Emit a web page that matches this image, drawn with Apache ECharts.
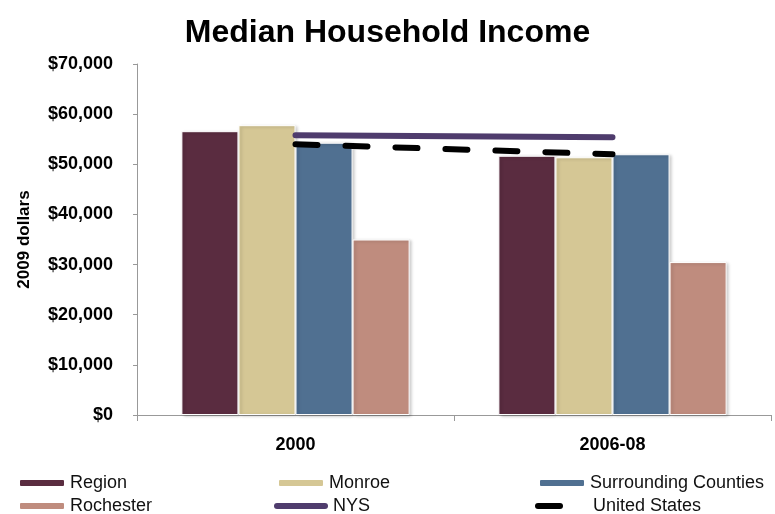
<!DOCTYPE html>
<html>
<head>
<meta charset="utf-8">
<script src="https://cdn.jsdelivr.net/npm/echarts@6/dist/echarts.min.js"></script>
<style>
html,body{margin:0;padding:0;background:#fff;}
#chart{width:775px;height:514px;}
</style>
</head>
<body>
<div id="chart"></div>
<script>
var categories = ['2000', '2006-08'];
var region = [56600, 51700];
var monroe = [57800, 51400];
var surrounding = [54300, 52000];
var rochester = [35000, 30500];
var nys = [55800, 55400];
var unitedStates = [54000, 52000];

var FONT = '"Liberation Sans", Arial, sans-serif';
var barShadow = {borderColor: '#ffffff', borderWidth: 1, shadowColor: 'rgba(0,0,0,0.22)', shadowBlur: 3, shadowOffsetX: 2, shadowOffsetY: 1};

function barSeries(name, data, color) {
  return {
    name: name, type: 'bar', data: data,
    barGap: '0%', barCategoryGap: '28%',
    itemStyle: Object.assign({color: color}, barShadow)
  };
}

var ROUND_LINE = 'path://M3,0 H51 A3,3 0 0 1 51,6 H3 A3,3 0 0 1 3,0 Z';
var ROUND_DASH = 'path://M3,0 H25 A3,3 0 0 1 25,6 H3 A3,3 0 0 1 3,0 Z';

function legendItem(name, left, top, opts) {
  var base = {
    orient: 'horizontal', left: left, top: top, padding: 0,
    itemWidth: 46, itemHeight: 8, data: [name],
    textStyle: {fontFamily: FONT, fontSize: 18, color: '#111', lineHeight: 18},
    selectedMode: false
  };
  return Object.assign(base, opts || {});
}

var chart = echarts.init(document.getElementById('chart'), null, {renderer: 'canvas'});
chart.setOption({
  animation: false,
  backgroundColor: '#ffffff',
  title: {
    text: 'Median Household Income', left: 'center', top: 12,
    textStyle: {fontFamily: FONT, fontSize: 32, fontWeight: 'bold', color: '#000'}
  },
  legend: [
    legendItem('Region', 18, 474),
    legendItem('Rochester', 18, 497),
    legendItem('Monroe', 277, 474),
    legendItem('NYS', 274, 497, {
      itemWidth: 54, itemHeight: 6,
      data: [{name: 'NYS', icon: ROUND_LINE, itemStyle: {color: '#4F3C6D', borderWidth: 0}}]
    }),
    legendItem('Surrounding Counties', 538, 474),
    legendItem('United States', 535, 497, {
      itemWidth: 28, itemHeight: 6,
      data: [{name: 'United States', icon: ROUND_DASH, itemStyle: {color: '#000', borderWidth: 0},
              textStyle: {padding: [0, 0, 0, 25]}}]
    })
  ],
  grid: {left: 137, right: 4, top: 64, bottom: 99, containLabel: false},
  xAxis: {
    type: 'category', data: categories,
    axisLine: {lineStyle: {color: '#999', width: 1}},
    axisTick: {show: true, length: 6, lineStyle: {color: '#999'}},
    axisLabel: {margin: 21, fontFamily: FONT, fontSize: 18, fontWeight: 'bold', color: '#000'}
  },
  yAxis: {
    type: 'value', min: 0, max: 70000, interval: 10000,
    name: '2009 dollars', nameLocation: 'middle', nameGap: 104, nameRotate: 90,
    nameTextStyle: {fontFamily: FONT, fontSize: 17, fontWeight: 'bold', color: '#000'},
    axisLine: {show: true, lineStyle: {color: '#999', width: 1}},
    axisTick: {show: true, length: 4, lineStyle: {color: '#999'}},
    splitLine: {show: false},
    axisLabel: {
      margin: 24, fontFamily: FONT, fontSize: 18, fontWeight: 'bold', color: '#000',
      formatter: function (v) { return '$' + v.toLocaleString('en-US'); }
    }
  },
  series: [
    barSeries('Region', region, '#5A2C40'),
    barSeries('Monroe', monroe, '#D5C795'),
    barSeries('Surrounding Counties', surrounding, '#507091'),
    barSeries('Rochester', rochester, '#BF8C7E'),
    {
      name: 'NYS', type: 'line', data: nys, symbol: 'none', z: 5,
      lineStyle: {color: '#4F3C6D', width: 6, cap: 'round'},
      itemStyle: {color: '#4F3C6D'}
    },
    {
      name: 'United States', type: 'line', data: unitedStates, symbol: 'none', z: 5,
      lineStyle: {color: '#000', width: 6, type: [22, 28], cap: 'round'},
      itemStyle: {color: '#000'}
    }
  ]
});
</script>
</body>
</html>
